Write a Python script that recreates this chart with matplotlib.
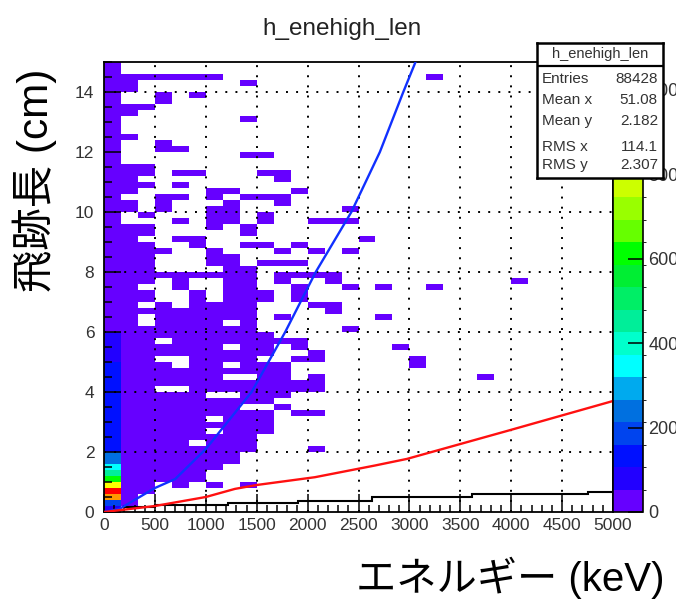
import numpy as np
import matplotlib
matplotlib.use("Agg")
import matplotlib.pyplot as plt
from matplotlib.colors import ListedColormap, BoundaryNorm
from matplotlib.ticker import MultipleLocator

plt.rcParams['font.family'] = ['Liberation Sans', 'Noto Sans CJK JP']

# histogram binning (keV, cm)
n_xbins = 30
n_ybins = 75
x_max = 5000
y_max = 15

# occupied cells: one string per 0.2 cm row, top row first,
# one character per 166.7 keV column ('#' = filled)
occupancy = [
    "#........................",  # 14.8
    "#........................",  # 14.6
    "#######............#.....",  # 14.4
    "##......#................",  # 14.2
    "##.......................",  # 14.0
    "#..#.#...................",  # 13.8
    "#..#.....................",  # 13.6
    "###......................",  # 13.4
    "##.......................",  # 13.2
    "#.......#................",  # 13.0
    "#........................",  # 12.8
    "#........................",  # 12.6
    "##.......................",  # 12.4
    "#..#.....................",  # 12.2
    "#..##....................",  # 12.0
    "#.......##...............",  # 11.8
    "#........................",  # 11.6
    "###......................",  # 11.4
    "###.##...##..............",  # 11.2
    "##........#..............",  # 11.0
    "###.#....................",  # 10.8
    "##....##...#.............",  # 10.6
    "#..##.#.###..............",  # 10.4
    "##.#...#..#..............",  # 10.2
    "##.#..##......#..........",  # 10.0
    "#.#...##.#...............",  # 9.8
    "#...#.##.#..###..........",  # 9.6
    "###...#.#................",  # 9.4
    "###.....#................",  # 9.2
    "##..##.........#.........",  # 9.0
    "###..#..##.#.............",  # 8.8
    "####..#...#.#.#..........",  # 8.6
    "###...##.................",  # 8.4
    "###...##.###.............",  # 8.2
    "###....##................",  # 8.0
    "#########.####...........",  # 7.8
    "###.#..##.#..#..........#",  # 7.6
    "##..#..##..#..#.#..#.....",  # 7.4
    "###..#.###.#.............",  # 7.2
    "###..#.###.#.............",  # 7.0
    "##.#.####...##...........",  # 6.8
    "#########....#...........",  # 6.6
    "##.######.#.....#........",  # 6.4
    "##.####.#................",  # 6.2
    "#########.....#..........",  # 6.0
    "##########...............",  # 5.8
    "###.########.............",  # 5.6
    "#######.##.#.....#.......",  # 5.4
    "##########..#............",  # 5.2
    "###..####..##.....#......",  # 5.0
    "####.##.###.......#......",  # 4.8
    "###########..............",  # 4.6
    "#######..##.#.........#..",  # 4.4
    "#############............",  # 4.2
    "###..########............",  # 4.0
    "######..###..............",  # 3.8
    "##########...............",  # 3.6
    "########..#..............",  # 3.4
    "##########.##............",  # 3.2
    "######.###...............",  # 3.0
    "##########...............",  # 2.8
    "######.###...............",  # 2.6
    "#########................",  # 2.4
    "#####.###................",  # 2.2
    "#########...#............",  # 2.0
    "########.................",  # 1.8
    "########.................",  # 1.6
    "#######..................",  # 1.4
    "######...................",  # 1.2
    "######...................",  # 1.0
    "###.#.#.#................",  # 0.8
    "###......................",  # 0.6
    "##.......................",  # 0.4
    "##.......................",  # 0.2
    "#........................",  # 0.0
]
cell_count = 12

# first column (0-167 keV): counts by height band
col0_top = [0.2, 0.4, 0.6, 0.8, 1.0, 1.2, 1.4, 1.6, 2.0, 5.0, 5.4, 6.0, 15.0]
col0_counts = [100, 200, 920, 1040, 820, 600, 450, 330, 250, 150, 80, 70, 25]

# curves drawn over the histogram
blue_e = [0, 150, 500, 700, 1000, 1450, 1780, 2080, 2430, 2710, 2940, 3060]
blue_len = [0, 0.1, 0.8, 1.1, 2.1, 4.0, 6.0, 8.0, 10.0, 12.0, 14.0, 15.0]
red_e = [0, 500, 1000, 1286, 1500, 2072, 2662, 2976, 3958, 5000]
red_len = [0, 0.2, 0.5, 0.77, 0.9, 1.16, 1.55, 1.77, 2.7, 3.7]

# black step line along the bottom
step_edges = [177, 500, 1218, 1906, 2633, 3615, 4754, 5000]
step_heights = [0.16, 0.23, 0.29, 0.38, 0.51, 0.59, 0.68]

# colour palette (20 contour levels)
z_max = 1066
palette = ['#6600ff', '#2200ff', '#0010ff', '#0044ee', '#0070e0',
           '#00aaee', '#00ffff', '#00ffcc', '#00ee99', '#00ee66',
           '#00ee33', '#00ff00', '#66ff00', '#99ff00', '#ccff00',
           '#ffff00', '#ffcc00', '#ff9900', '#ff5500', '#ff0000']
cbar_ticks = [0, 200, 400, 600, 800, 1000]

stats_names = ['Entries', 'Mean x', 'Mean y', 'RMS x', 'RMS y']
stats_values = ['88428', '51.08', '2.182', '114.1', '2.307']

# build the 2D histogram
x_edges = np.linspace(0, x_max, n_xbins + 1)
y_edges = np.linspace(0, y_max, n_ybins + 1)
H = np.zeros((n_ybins, n_xbins))
for i, row in enumerate(occupancy[::-1]):
    for j, ch in enumerate(row):
        if ch == '#':
            H[i, j] = cell_count
y_centers = 0.5 * (y_edges[:-1] + y_edges[1:])
for i, yc in enumerate(y_centers):
    for top, cnt in zip(col0_top, col0_counts):
        if yc < top:
            H[i, 0] = cnt
            break

cmap = ListedColormap(palette)
norm = BoundaryNorm(np.linspace(0, z_max, len(palette) + 1), len(palette))

fig = plt.figure(figsize=(6.76, 6.02), dpi=100)
ax = fig.add_axes([104 / 676, 90 / 602, 509 / 676, 450 / 602])
cax = fig.add_axes([613 / 676, 90 / 602, 30 / 676, 450 / 602])

mesh = ax.pcolormesh(x_edges, y_edges, np.ma.masked_equal(H, 0), cmap=cmap, norm=norm,
                     shading='flat', antialiased=False, zorder=1)

# dotted grid (no line at 12 in the original)
for gx in [500, 1000, 1500, 2000, 2500, 3000, 3500, 4000, 4500]:
    ax.axvline(gx, color='black', lw=1.4, ls=(0, (1, 4.2)), zorder=2)
for gy in [2, 4, 6, 8, 10, 14]:
    ax.axhline(gy, color='black', lw=1.4, ls=(0, (1, 4.2)), zorder=2)

ax.plot(blue_e, blue_len, color='#1030ff', lw=1.7, zorder=4)
ax.plot(red_e, red_len, color='#ff1010', lw=1.7, zorder=4)
ax.stairs(step_heights, step_edges, baseline=None, color='black', lw=1.5, zorder=3)

ax.set_xlim(0, x_max)
ax.set_ylim(0, y_max)
ax.xaxis.set_major_locator(MultipleLocator(500))
ax.xaxis.set_minor_locator(MultipleLocator(100))
ax.yaxis.set_major_locator(MultipleLocator(2))
ax.yaxis.set_minor_locator(MultipleLocator(0.5))
ax.tick_params(which='both', direction='in', top=False, right=False, width=1.1,
               labelsize=12.5, labelcolor='#333333')
ax.tick_params(axis='x', which='major', length=13, pad=4)
ax.tick_params(axis='x', which='minor', length=5)
ax.tick_params(axis='y', which='major', length=12, pad=7)
ax.tick_params(axis='y', which='minor', length=6)
for s in ax.spines.values():
    s.set_linewidth(1.3)

cb = fig.colorbar(mesh, cax=cax, ticks=cbar_ticks)
cb.outline.set_linewidth(1.2)
cax.tick_params(direction='in', length=11, width=1.1, pad=4, labelsize=13,
                labelcolor='#333333')

# titles and axis labels
fig.text(342 / 676, 1 - 29 / 602, 'h_enehigh_len', ha='center', va='center',
         fontsize=17.5, color='#222222')
fig.text(35 / 676, 1 - 180 / 602, '飛跡長 (cm)', rotation=90, ha='center', va='center',
         fontsize=30.5)
fig.text(665 / 676, 1 - 578 / 602, 'エネルギー (keV)', ha='right', va='center', fontsize=29)

# statistics box
sax = fig.add_axes([537 / 676, 1 - 178 / 602, 126 / 676, 135 / 602])
sax.set_zorder(10)
sax.set_facecolor('white')
sax.set_xticks([])
sax.set_yticks([])
for s in sax.spines.values():
    s.set_linewidth(1.8)
sax.axhline(0.83, color='black', lw=1.6)
sax.text(0.5, 0.915, 'h_enehigh_len', ha='center', va='center', fontsize=10.5,
         color='#333333', transform=sax.transAxes)
rows_y = [0.733, 0.578, 0.422, 0.23, 0.096]
for name, val, yy in zip(stats_names, stats_values, rows_y):
    sax.text(0.04, yy, name, ha='left', va='center', fontsize=11, color='#333333',
             transform=sax.transAxes)
    sax.text(0.96, yy, val, ha='right', va='center', fontsize=11, color='#333333',
             transform=sax.transAxes)

fig.savefig('out.png', dpi=100)
